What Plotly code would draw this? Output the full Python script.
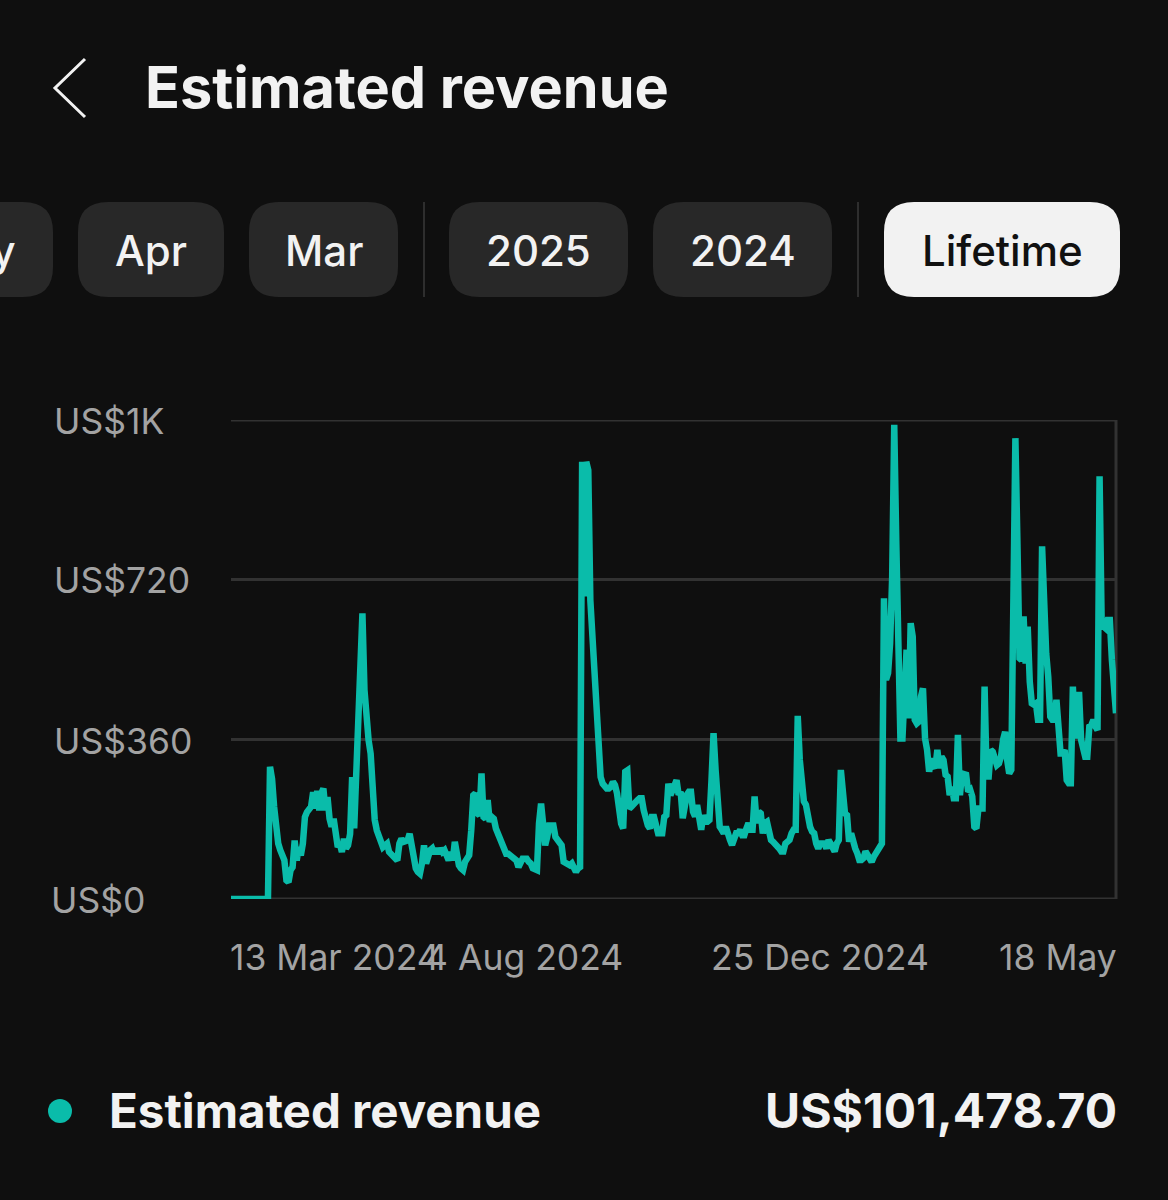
import pandas as pd
import plotly.graph_objects as go

# colors
background_color = '#0f0f0f'
line_color = '#0abcaa'
pill_color = '#282828'
pill_active_color = '#f2f2f2'
text_color = '#f2f2f2'
axis_text_color = '#a3a3a3'
grid_color = '#323232'
separator_color = '#2e2e2e'

FONT = 'Inter, Roboto, sans-serif'
WIDTH = 1168
HEIGHT = 1200

# data
start_date = '2024-03-13'
revenue = [
    0, 0, 0, 0, 0, 0, 0, 0, 0, 0,
    0, 0, 0, 0, 0, 0, 0, 0, 0, 298,
    270, 208, 163, 125, 110, 98, 87, 42, 38, 65,
    72, 132, 87, 117, 98, 125, 185, 196, 200, 208,
    241, 204, 244, 200, 238, 249, 200, 230, 181, 163,
    181, 132, 117, 125, 106, 136, 114, 121, 147, 275,
    159, 283, 418, 569, 644, 471, 396, 358, 328, 230,
    178, 155, 140, 125, 117, 121, 125, 106, 102, 98,
    91, 87, 125, 136, 129, 129, 132, 147, 125, 87,
    69, 61, 57, 80, 121, 80, 98, 110, 114, 102,
    114, 102, 114, 106, 110, 102, 87, 106, 87, 129,
    91, 76, 69, 65, 84, 91, 99, 155, 234, 238,
    193, 189, 283, 185, 181, 223, 174, 185, 181, 159,
    148, 140, 121, 110, 102, 102, 99, 95, 91, 87,
    72, 84, 91, 91, 91, 84, 80, 69, 65, 65,
    170, 215, 170, 121, 140, 166, 166, 166, 140, 133,
    129, 121, 84, 80, 76, 76, 80, 72, 61, 69,
    72, 986, 682, 986, 967, 674, 584, 494, 388, 321,
    275, 260, 253, 249, 249, 253, 264, 257, 238, 200,
    170, 159, 287, 290, 204, 208, 215, 219, 223, 227,
    227, 200, 178, 166, 159, 185, 185, 163, 148, 148,
    148, 185, 189, 260, 234, 245, 257, 268, 235, 242,
    182, 216, 235, 242, 242, 197, 186, 212, 186, 156,
    189, 174, 174, 178, 268, 374, 291, 193, 163, 156,
    148, 163, 144, 133, 122, 141, 148, 148, 156, 144,
    144, 159, 171, 156, 156, 231, 171, 197, 193, 148,
    171, 174, 141, 133, 129, 125, 122, 114, 107, 107,
    125, 129, 133, 148, 156, 156, 413, 314, 246, 220,
    212, 178, 163, 152, 148, 125, 114, 125, 125, 125,
    114, 133, 125, 110, 107, 125, 133, 291, 238, 193,
    189, 129, 148, 125, 114, 103, 88, 88, 92, 107,
    99, 88, 84, 95, 103, 110, 118, 125, 678, 494,
    509, 577, 727, 1069, 802, 471, 362, 362, 486, 562,
    407, 622, 592, 404, 396, 400, 456, 475, 362, 336,
    287, 317, 302, 295, 336, 295, 321, 313, 280, 276,
    234, 253, 227, 227, 370, 234, 283, 283, 280, 242,
    246, 231, 163, 159, 204, 204, 204, 479, 276, 276,
    336, 332, 310, 302, 306, 321, 359, 377, 313, 283,
    291, 652, 1039, 802, 543, 539, 637, 531, 614, 490,
    441, 438, 441, 404, 404, 795, 652, 554, 501, 411,
    404, 404, 449, 404, 328, 328, 336, 268, 261, 261,
    479, 362, 426, 467, 359, 343, 321, 321, 389, 392,
    404, 389, 381, 953, 629, 614, 610, 629, 629, 539,
    479, 419,
]
y_ticks = [0, 360, 720, 1080]
y_labels = ['US$0', 'US$360', 'US$720', 'US$1K']
x_ticks = ['2024-03-13', '2024-08-04', '2024-12-25', '2025-05-18']
x_labels = ['13 Mar 2024', '4 Aug 2024', '25 Dec 2024', '18 May']
total_label = 'US$101,478.70'
series_name = 'Estimated revenue'

dates = pd.date_range(start_date, periods=len(revenue), freq='D')


def px(x):
    return x / WIDTH


def py(y):
    return 1 - y / HEIGHT


def pill_path(x0, x1, y0, y1, r):
    # rounded rectangle in paper coordinates
    return (
        f'M {px(x0 + r)} {py(y0)} L {px(x1 - r)} {py(y0)} '
        f'Q {px(x1)} {py(y0)} {px(x1)} {py(y0 + r)} L {px(x1)} {py(y1 - r)} '
        f'Q {px(x1)} {py(y1)} {px(x1 - r)} {py(y1)} L {px(x0 + r)} {py(y1)} '
        f'Q {px(x0)} {py(y1)} {px(x0)} {py(y1 - r)} L {px(x0)} {py(y0 + r)} '
        f'Q {px(x0)} {py(y0)} {px(x0 + r)} {py(y0)} Z'
    )


def paper_text(text, x, y, size, color=text_color, anchor='left', weight=400):
    return dict(
        text=text, xref='paper', yref='paper', x=px(x), y=py(y),
        xanchor=anchor, yanchor='middle', showarrow=False,
        font=dict(family=FONT, size=size, color=color, weight=weight),
    )


fig = go.Figure()

fig.add_trace(
    go.Scatter(
        x=dates,
        y=revenue,
        mode='lines',
        name=series_name,
        line=dict(color=line_color, width=6.5),
        showlegend=False,
        cliponaxis=False,
    )
)

shapes = []
annotations = []

# back chevron
shapes.append(dict(
    type='path', xref='paper', yref='paper',
    path=f'M {px(85)} {py(59)} L {px(55)} {py(88)} L {px(85)} {py(117)}',
    line=dict(color=text_color, width=3),
))
annotations.append(paper_text('Estimated revenue', 143, 87, 57.6, weight=700))

# period pills
pills = [
    ('May', -108, 53, False),
    ('Apr', 78, 224, False),
    ('Mar', 249, 398, False),
    ('2025', 449, 628, False),
    ('2024', 653, 832, False),
    ('Lifetime', 884, 1120, True),
]
for label, x0, x1, active in pills:
    shapes.append(dict(
        type='path', xref='paper', yref='paper', line=dict(width=0),
        path=pill_path(x0, x1, 202, 297, 30),
        fillcolor=pill_active_color if active else pill_color,
    ))
    annotations.append(paper_text(
        label, (x0 + x1) / 2, 250, 42,
        color='#111111' if active else text_color, anchor='center', weight=500,
    ))

for x in [424, 858]:
    shapes.append(dict(
        type='line', xref='paper', yref='paper',
        x0=px(x), x1=px(x), y0=py(202), y1=py(297),
        line=dict(color=separator_color, width=2),
    ))

# right edge, top and bottom of the plot
shapes.append(dict(
    type='line', xref='paper', yref='paper', layer='below',
    x0=px(1116), x1=px(1116), y0=py(420), y1=py(899),
    line=dict(color=grid_color, width=3),
))
for value in [y_ticks[0], y_ticks[-1]]:
    shapes.append(dict(
        type='line', xref='x domain', yref='y', layer='below',
        x0=0, x1=1, y0=value, y1=value,
        line=dict(color=grid_color, width=3),
    ))

# axis labels sit left aligned, first and last date hug the plot edges
y_label_x = [49, 52, 52, 52]
y_shift = [-1, -2, -1, -1]
for value, label, x, shift in zip(y_ticks, y_labels, y_label_x, y_shift):
    annotations.append(dict(
        text=label, xref='paper', yref='y', x=px(x), y=value, yshift=shift,
        xanchor='left', yanchor='middle', showarrow=False,
        font=dict(family=FONT, size=35.5, color=axis_text_color),
    ))
x_anchors = ['left', 'center', 'center', 'right']
x_shift = [-3, -3, 0, 3]
for value, label, anchor, shift in zip(x_ticks, x_labels, x_anchors, x_shift):
    annotations.append(dict(
        text=label, xref='x', yref='paper', x=value, y=py(957), xshift=shift,
        xanchor=anchor, yanchor='middle', showarrow=False,
        font=dict(family=FONT, size=35.5, color=axis_text_color),
    ))

# legend row
shapes.append(dict(
    type='circle', xref='paper', yref='paper', line=dict(width=0),
    x0=px(48), x1=px(72), y0=py(1123), y1=py(1099), fillcolor=line_color,
))
annotations.append(paper_text(series_name, 107, 1110, 47.5, weight=700))
annotations.append(paper_text(total_label, 1119, 1110, 48, anchor='right', weight=700))

fig.update_xaxes(
    domain=[px(231), px(1116)],
    range=[x_ticks[0], x_ticks[-1]],
    type='date',
    showgrid=False,
    showticklabels=False,
    zeroline=False,
)
fig.update_yaxes(
    domain=[py(899), py(420)],
    range=[0, 1080],
    tickvals=y_ticks,
    showticklabels=False,
    gridcolor=grid_color,
    gridwidth=3,
    zeroline=False,
)
fig.update_layout(
    width=WIDTH,
    height=HEIGHT,
    margin=dict(l=0, r=0, t=0, b=0),
    paper_bgcolor=background_color,
    plot_bgcolor=background_color,
    shapes=shapes,
    annotations=annotations,
)

fig.write_html(
    'out.html',
    config=dict(displayModeBar=False),
    post_script="document.body.style.margin='0';document.body.style.background='#0f0f0f';",
)
